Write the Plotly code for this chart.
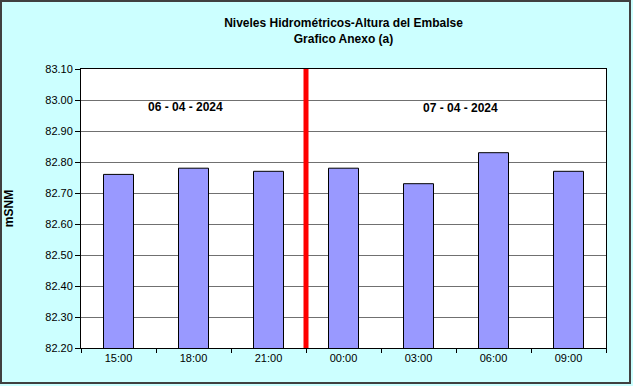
import plotly.graph_objects as go

categories = ["15:00", "18:00", "21:00", "00:00", "03:00", "06:00", "09:00"]
levels = [82.76, 82.78, 82.77, 82.78, 82.73, 82.83, 82.77]
date_labels = ["06 - 04 - 2024", "07 - 04 - 2024"]
divider_pos = 2.5

W, H = 633, 386
L, R, T, B = 81, 27, 69, 38
pw, ph = W - L - R, H - T - B


def px(x):
    return (x - L) / pw


def py(y):
    return (H - B - y) / ph


fig = go.Figure()
fig.add_trace(go.Bar(
    x=categories, y=levels, width=0.4,
    marker=dict(color="#9999FF", line=dict(color="#000000", width=1)),
    showlegend=False,
))

fig.update_layout(
    width=W, height=H,
    margin=dict(l=L, r=R, t=T, b=B),
    paper_bgcolor="#CCFFFF",
    plot_bgcolor="#FFFFFF",
    font=dict(family="Arial, Liberation Sans, sans-serif", size=11, color="#000000"),
    title=dict(
        text="<b>Niveles Hidrométricos-Altura del Embalse<br>Grafico Anexo (a)</b>",
        x=0.5, xanchor="center", xref="paper", y=1 - 27 / H, yanchor="middle",
        font=dict(size=12),
    ),
    bargap=0.6,
)
fig.update_xaxes(
    type="category", showline=True, linecolor="#000000", linewidth=1, mirror=True,
    ticks="outside", tickson="boundaries", ticklen=4, tickcolor="#000000",
    showgrid=False, tickfont=dict(size=11), automargin=False,
)
fig.update_yaxes(
    range=[82.2, 83.1], dtick=0.1, tick0=82.2, tickformat=".2f",
    showline=True, linecolor="#000000", linewidth=1, mirror=True,
    ticks="outside", ticklen=5, tickcolor="#000000",
    showgrid=True, gridcolor="#707070", gridwidth=1,
    title=dict(text="<b>mSNM</b>", font=dict(size=12), standoff=29),
    tickfont=dict(size=11), automargin=False,
)

fig.add_shape(type="line", xref="x", yref="paper", x0=divider_pos, x1=divider_pos,
              y0=0, y1=1, line=dict(color="#FF0000", width=5))

fig.add_annotation(xref="paper", yref="paper", x=px(185), y=py(107), xanchor="center", yanchor="middle",
                   text="<b>" + date_labels[0] + "</b>", showarrow=False, font=dict(size=12))
fig.add_annotation(xref="paper", yref="paper", x=px(460), y=py(108), xanchor="center", yanchor="middle",
                   text="<b>" + date_labels[1] + "</b>", showarrow=False, font=dict(size=12))

# outer chart border
fig.add_shape(type="rect", xref="paper", yref="paper",
              x0=px(1), x1=px(630), y0=py(1), y1=py(383),
              line=dict(color="#404040", width=2), layer="above")

fig.write_html("out.html")
